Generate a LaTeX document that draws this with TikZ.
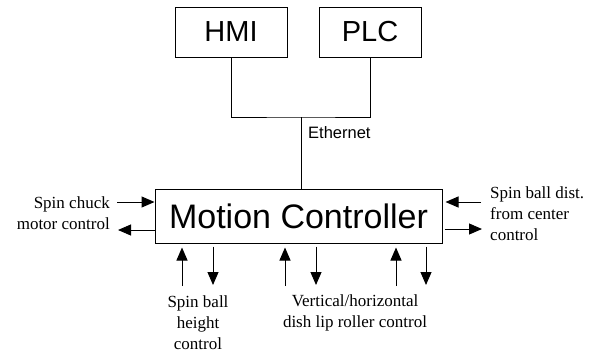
\documentclass[tikz,border=0pt]{standalone}
\usepackage{fontspec}
\setmainfont{Liberation Serif}
\newfontfamily\arialfont{Liberation Sans}
\usetikzlibrary{arrows.meta}
\tikzset{
  unitbox/.style={draw,line width=1pt,inner sep=0pt,font=\arialfont\fontsize{29}{34}\selectfont},
  sig/.style={-{Triangle[length=13pt,width=11pt]},line width=1pt},
  lbl/.style={inner sep=0pt,font=\fontsize{17}{21}\selectfont}
}
\begin{document}
\begin{tikzpicture}[x=1pt,y=-1pt]
  \useasboundingbox (0,0) rectangle (593,356);
  \node[unitbox,minimum width=112pt,minimum height=50pt] (hmi) at (231,32) {HMI};
  \node[unitbox,minimum width=102pt,minimum height=50pt] (plc) at (370,32) {PLC};
  \node[unitbox,minimum width=287pt,minimum height=54pt,font=\arialfont\fontsize{34}{40}\selectfont] (mc) at (298.5,216) {Motion Controller};
  \coordinate (bus) at (301,117);
  \draw[line width=1pt] (hmi.south) |- (bus) -| (plc.south);
  \draw[line width=1pt] (bus) -- (bus |- mc.north);
  \node[inner sep=0pt,anchor=west,font=\arialfont\fontsize{16.5}{20}\selectfont] (eth) at (308,133) {Ethernet};
  \coordinate (lin) at (117,202);
  \coordinate (lout) at (118,230);
  \coordinate (rin) at (481,202);
  \coordinate (rout) at (482,229);
  \draw[sig] (lin) -- (lin -| mc.west);
  \draw[sig] (mc.west |- lout) -- (lout);
  \draw[sig,shorten >=3pt] (rin) -- (rin -| mc.east);
  \draw[sig,shorten <=2pt] (mc.east |- rout) -- (rout);
  \foreach \xu/\xd [count=\i] in {182/213,285/316,396/426}{
    \coordinate (up\i) at (\xu,286);
    \coordinate (dn\i) at (\xd,285);
    \draw[sig,shorten >=4pt] (up\i) -- (up\i |- mc.south);
    \draw[sig,shorten <=3pt] (mc.south -| dn\i) -- (dn\i);
  }
  \node[lbl,anchor=east,align=right] (chuck) at (110,213.5) {Spin chuck\\motor control};
  \node[lbl,anchor=west,align=left] (dist) at (490,214) {Spin ball dist.\\from center\\control};
  \node[lbl,align=center] (height) at (198,323) {Spin ball\\height\\control};
  \node[lbl,align=center] (roller) at (355,313) {Vertical/horizontal\\dish lip roller control};
\end{tikzpicture}
\end{document}
